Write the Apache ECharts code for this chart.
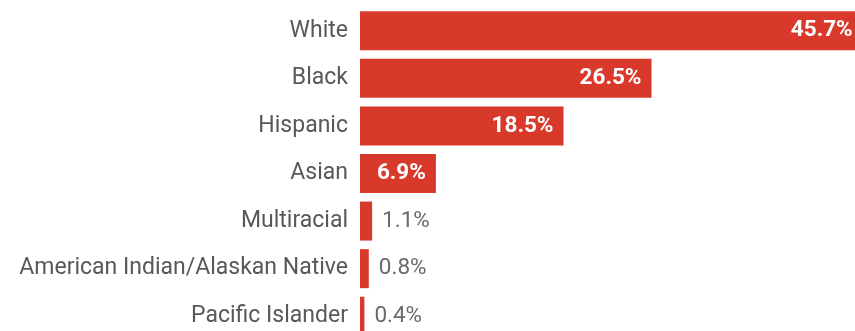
<!DOCTYPE html>
<html>
<head>
<meta charset="utf-8">
<script src="https://cdn.jsdelivr.net/npm/echarts@6/dist/echarts.min.js"></script>
<style>
html,body{margin:0;padding:0;background:#fff;}
#c{width:855px;height:331px;}
</style>
</head>
<body>
<div id="c"></div>
<script>
const categories = ["White","Black","Hispanic","Asian","Multiracial","American Indian/Alaskan Native","Pacific Islander"];
const values = [45.7, 26.5, 18.5, 6.9, 1.1, 0.8, 0.4];
const insideThreshold = 5;

const chart = echarts.init(document.getElementById('c'), null, {renderer:'canvas'});
const data = values.map(v => {
  const inside = v >= insideThreshold;
  return {
    value: v,
    label: inside ? {
      position: 'insideRight', distance: 10, color: '#ffffff', fontWeight: 'bold'
    } : {
      position: 'right', distance: 10, color: '#6a6a6a', fontWeight: 'normal'
    }
  };
});
chart.setOption({
  animation: false,
  grid: {left: 360, top: 7, width: 550, height: 333, containLabel: false, outerBoundsMode: 'none'},
  xAxis: {type: 'value', min: 0, max: 50, show: false},
  yAxis: {
    type: 'category', data: categories, inverse: true,
    axisLine: {show: false}, axisTick: {show: false},
    axisLabel: {color: '#585858', fontSize: 23, fontFamily: 'Roboto', margin: 12}
  },
  series: [{
    type: 'bar', data: data, barWidth: 39,
    itemStyle: {color: '#d8392b'},
    label: {show: true, fontSize: 22.5, fontFamily: 'Roboto', formatter: p => p.value.toFixed(1) + '%'}
  }]
});
</script>
</body>
</html>
